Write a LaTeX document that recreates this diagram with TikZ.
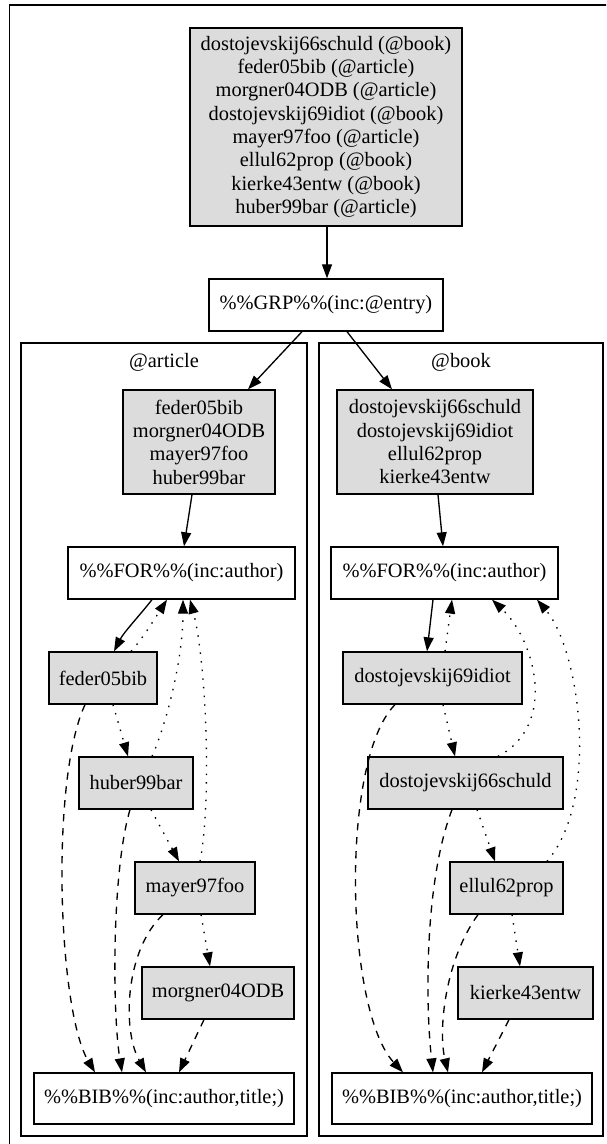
\documentclass[tikz,border=0pt]{standalone}
\usepackage{fontspec}
\setmainfont{Liberation Serif}
\usetikzlibrary{arrows.meta,calc}
\definecolor{entryfill}{RGB}{220,220,220}
\begin{document}
\begin{tikzpicture}[x=0.75pt,y=-0.75pt,
  font=\fontsize{15.3}{17.5}\selectfont,
  box/.style={draw,line width=1pt,inner sep=0pt,align=center},
  entry/.style={box,fill=entryfill},
  sz/.style 2 args={minimum width=#1*0.75pt,minimum height=#2*0.75pt},
  frame/.style={draw,line width=1pt},
  link/.style={line width=1pt,-{Triangle[length=10.5pt,width=7.5pt]}},
  order/.style={link,dash pattern=on 1.1pt off 5.4pt},
  bib/.style={link,dash pattern=on 5.5pt off 5pt},
]
\useasboundingbox (0,0) rectangle (606,1144);
\clip (0,0) rectangle (606,1144);

% outer graph frame and the two clusters
\draw[frame] (9.5,5) rectangle (612,1152);
\draw[frame] (21,343) rectangle (307,1136);
\draw[frame] (319,343) rectangle (603,1136);
\node (artlabel) at (164,362) {@article};
\node (booklabel) at (461,362) {@book};

% top level
\node[entry,sz={272}{198}] (top) at (326,127) {dostojevskij66schuld (@book)\\feder05bib (@article)\\morgner04ODB (@article)\\dostojevskij69idiot (@book)\\mayer97foo (@article)\\ellul62prop (@book)\\kierke43entw (@book)\\huber99bar (@article)};
\node[box,sz={234}{52}] (grp) at (326,305) {\%\%GRP\%\%(inc:@entry)};

% @article cluster
\node[entry,sz={152}{104}] (artlist) at (199,442) {feder05bib\\morgner04ODB\\mayer97foo\\huber99bar};
\node[box,sz={227}{52}] (forA) at (181.5,573) {\%\%FOR\%\%(inc:author)};
\node[entry,sz={108}{52}] (feder) at (103,678) {feder05bib};
\node[entry,sz={114}{52}] (huber) at (136,783) {huber99bar};
\node[entry,sz={120}{52}] (mayer) at (195,888) {mayer97foo};
\node[entry,sz={152}{52}] (morgner) at (218,993) {morgner04ODB};
\node[box,sz={260}{51}] (bibA) at (164,1098.5) {\%\%BIB\%\%(inc:author,title;)};

% @book cluster
\node[entry,sz={196}{104}] (bklist) at (435,442) {dostojevskij66schuld\\dostojevskij69idiot\\ellul62prop\\kierke43entw};
\node[box,sz={227}{52}] (forB) at (444.5,573) {\%\%FOR\%\%(inc:author)};
\node[entry,sz={179}{52}] (idiot) at (432.5,678) {dostojevskij69idiot};
\node[entry,sz={195}{52}] (schuld) at (465.5,783) {dostojevskij66schuld};
\node[entry,sz={113}{52}] (ellul) at (506.5,888) {ellul62prop};
\node[entry,sz={135}{52}] (kierke) at (525.5,993) {kierke43entw};
\node[box,sz={260}{51}] (bibB) at (462,1098.5) {\%\%BIB\%\%(inc:author,title;)};

% grouping
\draw[link] ($(top.south)+(1,0)$) -- ($(grp.north)+(1,0)$);
\draw[link] ($(grp.south)+(-24,0)$) -- ($(artlist.north)+(49,0)$);
\draw[link] ($(grp.south)+(21,0)$) -- ($(bklist.north)+(-43,0)$);

% @article edges
\draw[link] ($(artlist.south)+(-7,0)$) -- ($(forA.north)+(2.5,0)$);
\draw[link] ($(forA.south)+(-29.5,0)$) .. controls (140,615) and (124,632) .. ($(feder.north)+(11,0)$);
\draw[order] ($(feder.north)+(28,0)$) .. controls (144,637) and (157,615) .. ($(forA.south)+(-14.5,0)$);
\draw[order] ($(huber.north)+(16,0)$) .. controls (166,725) and (183,660) .. ($(forA.south)+(1.5,0)$);
\draw[order] ($(mayer.north)+(5,0)$) .. controls (212,800) and (206,660) .. ($(forA.south)+(8.5,0)$);
\draw[order] ($(feder.south)+(10,0)$) -- ($(huber.north)+(-8,0)$);
\draw[bib] ($(feder.south)+(-18,0)$) .. controls (50,780) and (58,1010) .. ($(bibA.north)+(-69,0)$);
\draw[order] ($(huber.south)+(15,0)$) -- ($(mayer.north)+(-16,0)$);
\draw[bib] ($(huber.south)+(-6,0)$) .. controls (112,870) and (112,1010) .. ($(bibA.north)+(-42,0)$);
\draw[bib] ($(mayer.south)+(-32,0)$) .. controls (125,950) and (122,1030) .. ($(bibA.north)+(-18,0)$);
\draw[order] ($(mayer.south)+(6,0)$) -- ($(morgner.north)+(-8,0)$);
\draw[bib] ($(morgner.south)+(-14,0)$) -- ($(bibA.north)+(15,0)$);

% @book edges
\draw[link] ($(bklist.south)+(3,0)$) -- ($(forB.north)+(-1.5,0)$);
\draw[link] ($(forB.south)+(-11.5,0)$) -- ($(idiot.north)+(-5.5,0)$);
\draw[order] ($(idiot.north)+(12.5,0)$) -- ($(forB.south)+(7.5,0)$);
\draw[order] ($(schuld.north)+(32.5,0)$) .. controls (558,725) and (535,640) .. ($(forB.south)+(47.5,0)$);
\draw[order] ($(ellul.north)+(40.5,0)$) .. controls (600,800) and (580,650) .. ($(forB.south)+(92.5,0)$);
\draw[order] ($(idiot.south)+(10.5,0)$) -- ($(schuld.north)+(-10.5,0)$);
\draw[bib] ($(idiot.south)+(-37.5,0)$) .. controls (340,760) and (345,1010) .. ($(bibB.north)+(-59,0)$);
\draw[order] ($(schuld.south)+(11.5,0)$) -- ($(ellul.north)+(-11.5,0)$);
\draw[bib] ($(schuld.south)+(-13.5,0)$) .. controls (425,880) and (425,1000) .. ($(bibB.north)+(-29,0)$);
\draw[bib] ($(ellul.south)+(-28.5,0)$) .. controls (445,960) and (438,1030) .. ($(bibB.north)+(-14,0)$);
\draw[order] ($(ellul.south)+(5.5,0)$) -- ($(kierke.north)+(-5.5,0)$);
\draw[bib] ($(kierke.south)+(-16.5,0)$) -- ($(bibB.north)+(20,0)$);
\end{tikzpicture}
\end{document}
